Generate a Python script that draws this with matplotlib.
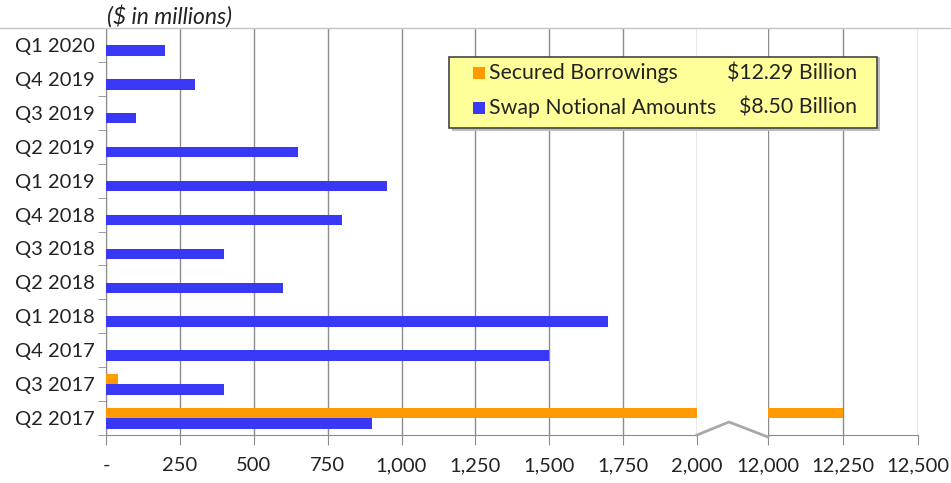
import matplotlib.pyplot as plt
from matplotlib.lines import Line2D
from matplotlib.patches import Rectangle

plt.rcParams['font.family'] = ['Lato', 'DejaVu Sans']

quarters = ['Q1 2020', 'Q4 2019', 'Q3 2019', 'Q2 2019', 'Q1 2019', 'Q4 2018',
            'Q3 2018', 'Q2 2018', 'Q1 2018', 'Q4 2017', 'Q3 2017', 'Q2 2017']
swap = [200, 300, 100, 650, 950, 800, 400, 600, 1700, 1500, 400, 900]
secured = [0, 0, 0, 0, 0, 0, 0, 0, 0, 0, 40, 12250]

legend_names = ['Secured Borrowings', 'Swap Notional Amounts']
legend_totals = ['$12.29 Billion', '$8.50 Billion']

left_ticks = [0, 250, 500, 750, 1000, 1250, 1500, 1750, 2000]
right_ticks = [12000, 12250, 12500]

blue = '#3838F5'
orange = '#FF9A00'
grid_c = '#8c8c8c'
txt_c = '#222222'

W, H = 951, 483
fig = plt.figure(figsize=(W / 100, H / 100), dpi=100)

def fx(px):
    return px / W

def fy(py):
    return 1 - py / H

top, bot = 28, 435
ax1 = fig.add_axes([fx(106), fy(bot), fx(697) - fx(106), fy(top) - fy(bot)])
ax2 = fig.add_axes([fx(768), fy(bot), fx(918) - fx(768), fy(top) - fy(bot)])

ypos = list(range(len(quarters)))
h = 0.31
for ax in (ax1, ax2):
    ax.barh([y + 0.16 for y in ypos], swap, height=h, color=blue, zorder=3)
    ax.barh([y - 0.15 for y in ypos], secured, height=h, color=orange, zorder=3)
    ax.set_ylim(len(quarters) - 0.5, -0.5)
    ax.grid(axis='x', color=grid_c, lw=1, zorder=0)
    for s in ('top', 'right'):
        ax.spines[s].set_visible(False)
    ax.spines['bottom'].set_color(grid_c)
    ax.spines['left'].set_color(grid_c)
    ax.tick_params(axis='x', length=7, color=grid_c, pad=9, labelsize=14.5,
                   labelcolor=txt_c)

ax1.set_xlim(0, 2000)
ax1.set_xticks(left_ticks)
ax1.set_xticklabels(['-' if v == 0 else f'{v:,}' for v in left_ticks])
ax1.set_yticks(ypos)
ax1.set_yticklabels(quarters)
ax1.tick_params(axis='y', which='major', length=0, pad=8, labelsize=14.5,
                labelcolor=txt_c)
ax1.set_yticks([y + 0.5 for y in range(-1, len(quarters))], minor=True)
ax1.tick_params(axis='y', which='minor', length=6, color=grid_c)

ax2.set_xlim(12000, 12500)
ax2.set_xticks(right_ticks)
ax2.set_xticklabels([f'{v:,}' for v in right_ticks])
ax2.set_yticks([])
ax2.spines['left'].set_visible(False)

# top rule across the whole figure and the axis break zigzag
fig.add_artist(Line2D([0, 1], [fy(28), fy(28)], color='#c4c4c4', lw=1))
fig.add_artist(Line2D([fx(697), fx(729), fx(768)], [fy(435), fy(422), fy(437)],
                      color='#a8a8a8', lw=2))

fig.text(fx(107), fy(16), '($ in millions)', style='italic', fontsize=16.5,
         va='center', ha='left', color=txt_c)

# legend box
fig.add_artist(Rectangle((fx(452), fy(131)), fx(880) - fx(452), fy(57) - fy(131),
                         facecolor='#bdbdbd', edgecolor='none'))
fig.add_artist(Rectangle((fx(449), fy(128)), fx(877) - fx(449), fy(57) - fy(128),
                         facecolor='#FFFF99', edgecolor='#444444', lw=1.2))
for i, (name, total, c) in enumerate(zip(legend_names, legend_totals, [orange, blue])):
    yc = 73 + i * 35
    fig.add_artist(Rectangle((fx(473), fy(yc + 6)), fx(12), fy(yc - 6) - fy(yc + 6),
                             facecolor=c, edgecolor='none'))
    fig.text(fx(489), fy(yc), name, fontsize=15.3, va='center', ha='left',
             color=txt_c)
    fig.text(fx(857), fy(yc), total, fontsize=15.3, va='center', ha='right',
             color=txt_c)

fig.savefig('out.png', dpi=100)
